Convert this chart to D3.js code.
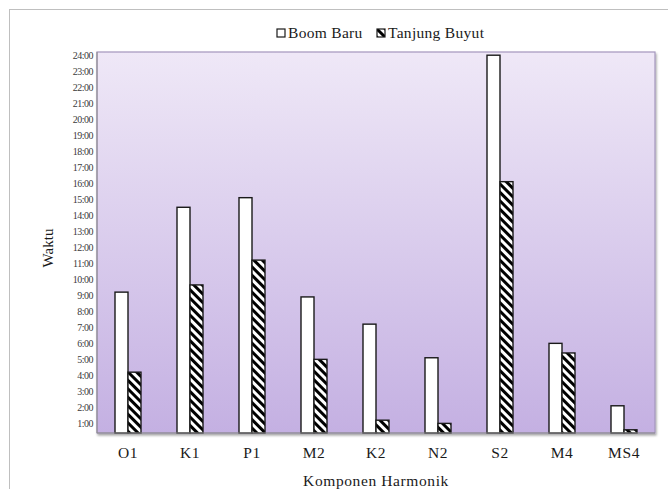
<!DOCTYPE html>
<html>
<head>
<meta charset="utf-8">
<script src="https://cdn.jsdelivr.net/npm/d3@7"></script>
<style>
  html, body { margin: 0; padding: 0; background: #ffffff; }
  svg { display: block; }
  text { font-family: 'Liberation Serif', 'Times New Roman', serif; }
</style>
</head>
<body>
<svg id="chart" width="668" height="489"></svg>
<script>
// Harmonic components and their times (hours) at two tide stations
const categories = ["O1", "K1", "P1", "M2", "K2", "N2", "S2", "M4", "MS4"];
const boomBaru = [9.2, 14.5, 15.1, 8.9, 7.2, 5.1, 24.0, 6.0, 2.1];
const tanjungBuyut = [4.2, 9.65, 11.2, 5.0, 1.2, 1.0, 16.1, 5.4, 0.6];
const seriesNames = ["Boom Baru", "Tanjung Buyut"];
const yTicks = d3.range(1, 25);
const yTickLabels = yTicks.map(h => h + ":00");

const svg = d3.select("#chart");
const plot = { left: 97, right: 655, top: 52, bottom: 433 };
const serif = "'Liberation Serif', 'Times New Roman', serif";

const defs = svg.append("defs");
const grad = defs.append("linearGradient")
  .attr("id", "bg").attr("x1", 0).attr("y1", 0).attr("x2", 0).attr("y2", 1);
grad.append("stop").attr("offset", "0%").attr("stop-color", "#efe8f7");
grad.append("stop").attr("offset", "100%").attr("stop-color", "#c4b0e2");

const hatch = defs.append("pattern")
  .attr("id", "hatch").attr("patternUnits", "userSpaceOnUse")
  .attr("width", 6).attr("height", 6)
  .attr("patternTransform", "rotate(-45)");
hatch.append("rect").attr("width", 6).attr("height", 6).attr("fill", "#ffffff");
hatch.append("rect").attr("x", 0).attr("y", 0).attr("width", 3).attr("height", 6).attr("fill", "#000000");

const shadow = defs.append("filter").attr("id", "shadow")
  .attr("x", "-5%").attr("y", "-5%").attr("width", "110%").attr("height", "110%");
shadow.append("feDropShadow").attr("dx", 1).attr("dy", 2).attr("stdDeviation", 1.2)
  .attr("flood-color", "#000").attr("flood-opacity", 0.35);

// outer chart frame
svg.append("rect").attr("x", 9.5).attr("y", 9.5).attr("width", 700).attr("height", 520)
  .attr("fill", "none").attr("stroke", "#bfbfbf").attr("stroke-width", 1);

// scales
const x = d3.scaleBand().domain(categories).range([plot.left, plot.right]).padding(0);
const y = d3.scaleLinear().domain([0.4, 24.2]).range([plot.bottom, plot.top]);
const barW = 13;

// plot area background
svg.append("rect")
  .attr("x", plot.left).attr("y", plot.top)
  .attr("width", plot.right - plot.left).attr("height", plot.bottom - plot.top)
  .attr("fill", "url(#bg)").attr("stroke", "#a497bd").attr("stroke-width", 1.2)
  .attr("filter", "url(#shadow)");

// bars
const data = categories.map((c, i) => ({ c, a: boomBaru[i], b: tanjungBuyut[i] }));
const g = svg.append("g");
g.selectAll(".barA").data(data).join("rect")
  .attr("class", "barA")
  .attr("x", d => x(d.c) + x.bandwidth() / 2 - barW)
  .attr("y", d => y(d.a))
  .attr("width", barW)
  .attr("height", d => y(0.4) - y(d.a))
  .attr("fill", "#ffffff").attr("stroke", "#1a1a1a").attr("stroke-width", 1.4);
g.selectAll(".barB").data(data).join("rect")
  .attr("class", "barB")
  .attr("x", d => x(d.c) + x.bandwidth() / 2)
  .attr("y", d => y(d.b))
  .attr("width", barW)
  .attr("height", d => y(0.4) - y(d.b))
  .attr("fill", "url(#hatch)").attr("stroke", "#1a1a1a").attr("stroke-width", 1.4);

// axes lines
svg.append("line").attr("x1", plot.left).attr("x2", plot.left)
  .attr("y1", plot.top).attr("y2", plot.bottom)
  .attr("stroke", "#8c8c8c").attr("stroke-width", 1);
svg.append("line").attr("x1", plot.left).attr("x2", plot.right)
  .attr("y1", plot.bottom).attr("y2", plot.bottom)
  .attr("stroke", "#8c8c8c").attr("stroke-width", 1.2);

// y axis labels
const yAxis = d3.axisLeft(y).tickValues(yTicks)
  .tickFormat((d, i) => yTickLabels[i]).tickSize(0).tickPadding(4);
const yg = svg.append("g").attr("transform", `translate(${plot.left},0)`).call(yAxis);
yg.select(".domain").remove();
yg.selectAll("text")
  .attr("font-family", serif).attr("font-size", 10)
  .attr("letter-spacing", -0.5).attr("fill", "#3a3a3a");

// x axis labels
const xAxis = d3.axisBottom(x).tickSize(0).tickPadding(14);
const xg = svg.append("g").attr("transform", `translate(0,${plot.bottom})`).call(xAxis);
xg.select(".domain").remove();
xg.selectAll("text")
  .attr("font-family", serif).attr("font-size", 15.5).attr("letter-spacing", 0.6)
  .attr("fill", "#1a1a1a");

// axis titles
svg.append("text").attr("x", 376).attr("y", 486).attr("text-anchor", "middle")
  .attr("font-family", serif).attr("font-size", 15.5).attr("letter-spacing", 0.6)
  .attr("fill", "#1a1a1a")
  .text("Komponen Harmonik");
svg.append("text").attr("transform", "translate(53,248) rotate(-90)").attr("text-anchor", "middle")
  .attr("font-family", serif).attr("font-size", 15).attr("fill", "#1a1a1a")
  .text("Waktu");

// legend
const legend = svg.append("g").attr("transform", "translate(277,33)");
const legendItems = [
  { name: seriesNames[0], fill: "#ffffff", x: 0 },
  { name: seriesNames[1], fill: "url(#hatch)", x: 100 }
];
legendItems.forEach(it => {
  legend.append("rect").attr("x", it.x).attr("y", -4).attr("width", 8).attr("height", 8)
    .attr("fill", it.fill).attr("stroke", "#1a1a1a").attr("stroke-width", 1.2);
  legend.append("text").attr("x", it.x + 11).attr("y", 5)
    .attr("font-family", serif).attr("font-size", 15.5).attr("letter-spacing", 0.3)
    .attr("fill", "#1a1a1a")
    .text(it.name);
});
</script>
</body>
</html>
